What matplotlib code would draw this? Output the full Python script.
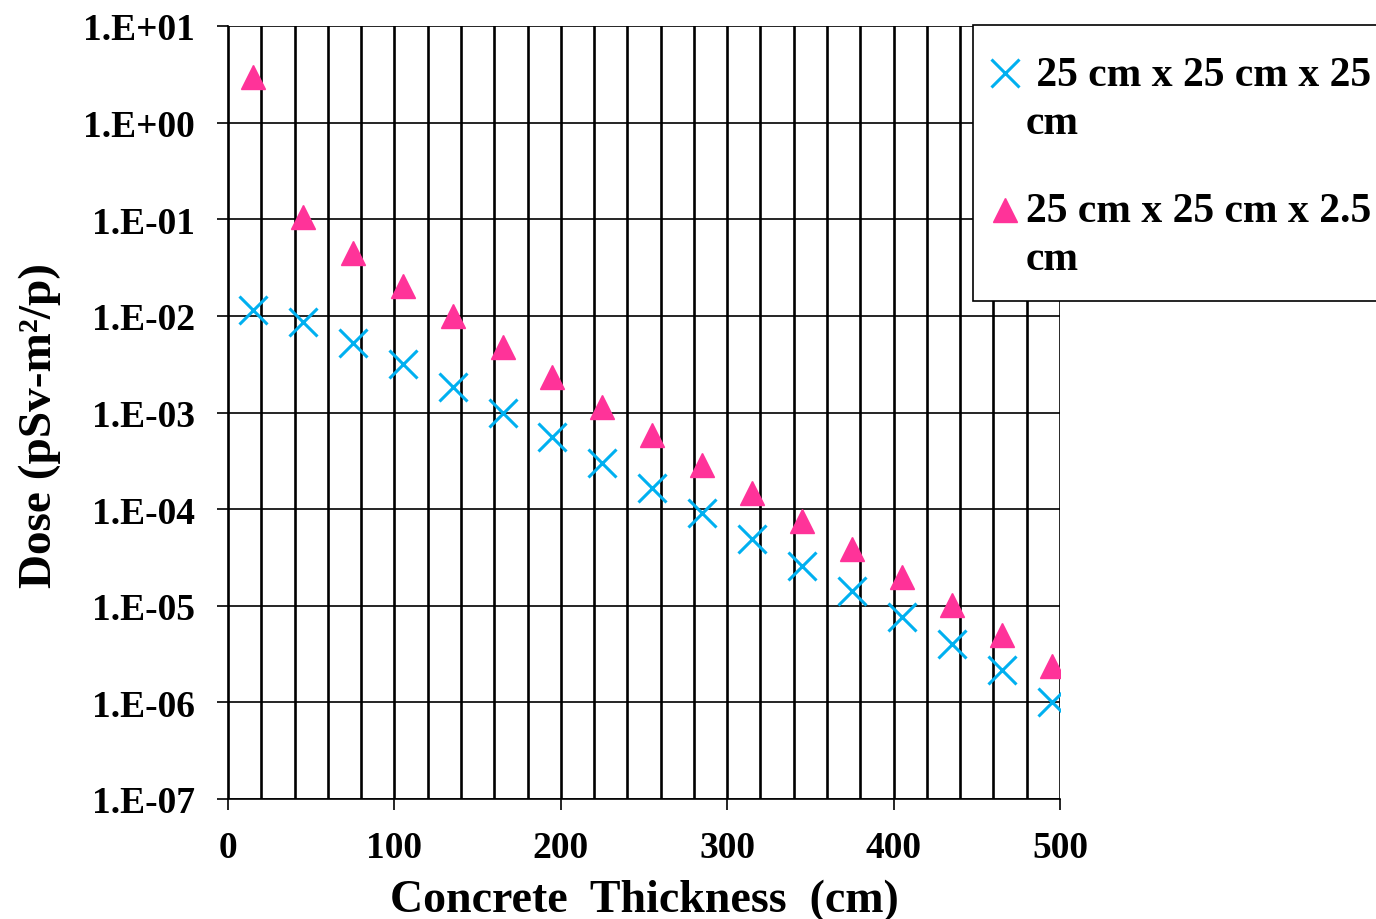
import math
import numpy as np
import matplotlib
matplotlib.use("Agg")
import matplotlib.pyplot as plt
from matplotlib.patches import Rectangle
from matplotlib.legend_handler import HandlerLine2D
from matplotlib.ticker import FixedLocator, MultipleLocator, FuncFormatter, NullFormatter

matplotlib.rcParams['font.family'] = ['Liberation Serif', 'DejaVu Serif']
matplotlib.rcParams['font.weight'] = 'bold'

# concrete thickness (cm)
thickness = [15, 45, 75, 105, 135, 165, 195, 225, 255, 285, 315, 345, 375, 405, 435, 465, 495]

# dose, 25 cm x 25 cm x 25 cm
dose_thick = [1.15e-2, 8.6e-3, 5.2e-3, 3.2e-3, 1.83e-3, 1.0e-3, 5.6e-4, 3.0e-4, 1.65e-4,
              9.1e-5, 4.9e-5, 2.57e-5, 1.42e-5, 7.6e-6, 4.0e-6, 2.15e-6, 1.0e-6]

# dose, 25 cm x 25 cm x 2.5 cm
dose_thin = [2.96, 0.105, 4.47e-2, 2.04e-2, 1.0e-2, 4.77e-3, 2.33e-3, 1.14e-3, 5.8e-4,
             2.85e-4, 1.46e-4, 7.5e-5, 3.85e-5, 1.98e-5, 1.01e-5, 4.97e-6, 2.37e-6]

labels = [" 25 cm x 25 cm x 25\ncm", "25 cm x 25 cm x 2.5\ncm"]


class TopLineHandler(HandlerLine2D):
    # put the legend marker next to the first line of a two-line label
    def __init__(self, shift, **kw):
        super().__init__(**kw)
        self.shift = shift

    def create_artists(self, legend, orig_handle, xdescent, ydescent, width, height,
                       fontsize, trans):
        arts = super().create_artists(legend, orig_handle, xdescent, ydescent, width,
                                      height, fontsize, trans)
        for a in arts:
            a.set_ydata(np.asarray(a.get_ydata()) + self.shift)
        return arts


W, H = 1376, 920
fig = plt.figure(figsize=(W / 100, H / 100), dpi=100)
ax = fig.add_axes([228 / W, 1 - 800 / H, 832 / W, 773 / H])

h1, = ax.plot(thickness, dose_thick, linestyle='none', marker='x', markersize=20,
              markeredgewidth=2.2, color='#00B0F0', label=labels[0], zorder=3)
h2, = ax.plot(thickness, dose_thin, linestyle='none', marker='^', markersize=17,
              color='#FF3399', label=labels[1], zorder=3)

ax.set_yscale('log')
ax.set_xlim(0, 500)
ax.set_ylim(1e-7, 1e1)

ax.yaxis.set_major_locator(FixedLocator([10.0 ** e for e in range(-7, 2)]))
ax.yaxis.set_minor_locator(FixedLocator([]))
ax.yaxis.set_minor_formatter(NullFormatter())
ax.yaxis.set_major_formatter(FuncFormatter(lambda v, p: "1.E%+03d" % round(math.log10(v))))

ax.xaxis.set_major_locator(MultipleLocator(100))
ax.xaxis.set_minor_locator(MultipleLocator(20))

ax.grid(True, axis='x', which='both', color='black', linewidth=1.9)
ax.grid(True, axis='y', which='major', color='black', linewidth=1.2)
ax.set_axisbelow(True)

for side in ['top', 'right']:
    ax.spines[side].set_visible(False)
for side in ['left', 'bottom']:
    ax.spines[side].set_linewidth(1.2)

ax.tick_params(axis='both', which='major', direction='out', length=8, width=1.2,
               labelsize=27, pad=14)
ax.tick_params(axis='y', which='major', pad=16)
ax.tick_params(axis='x', which='minor', length=0)
for lab in ax.get_xticklabels() + ax.get_yticklabels():
    lab.set_fontweight('bold')

ax.set_xlabel("Concrete  Thickness  (cm)", fontsize=33, fontweight='bold', labelpad=10)
ax.set_ylabel("Dose (pSv-m²/p)", fontsize=34, fontweight='bold', labelpad=16)
ax.yaxis.label.set_y(0.484)

# legend box, runs off the right edge like the original
box = Rectangle((973 / W, 1 - 302 / H), 420 / W, 276 / H, transform=fig.transFigure,
                facecolor='white', edgecolor='black', linewidth=1.2, zorder=4)
fig.add_artist(box)

leg = fig.legend(handles=[h1, h2], labels=labels, loc='upper left',
                 bbox_to_anchor=(988 / W, 1 - 57 / H), bbox_transform=fig.transFigure,
                 borderaxespad=0, borderpad=0, frameon=False, handlelength=0.8,
                 handletextpad=0.1, labelspacing=1.2,
                 handler_map={h1: TopLineHandler(19), h2: TopLineHandler(18)},
                 prop={'weight': 'bold', 'size': 30})
for t in leg.get_texts():
    t.set_linespacing(1.35)
leg.set_zorder(5)

fig.savefig("out.png", dpi=100)
